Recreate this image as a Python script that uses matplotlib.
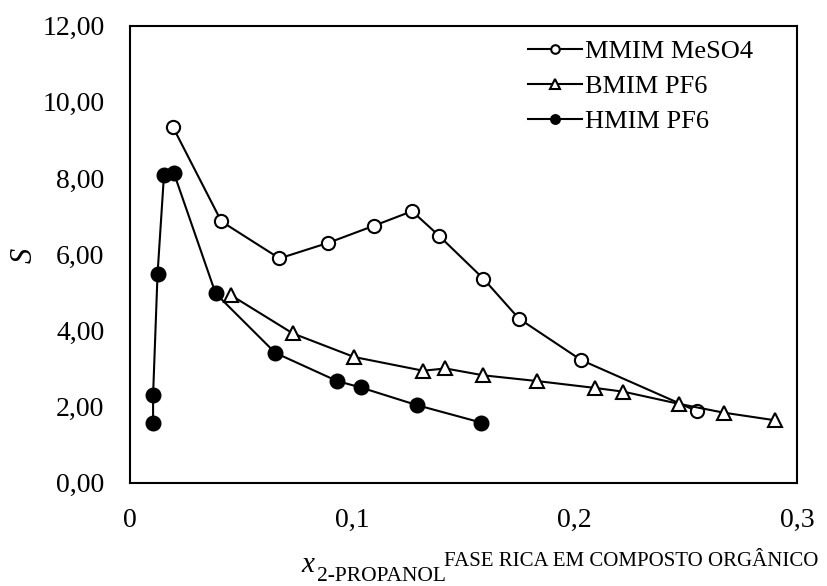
import matplotlib
matplotlib.use("Agg")
import matplotlib.pyplot as plt
from matplotlib.ticker import FuncFormatter

plt.rcParams['font.family'] = ['Liberation Serif', 'DejaVu Serif']

# Data
mmim_x = [0.0196, 0.0413, 0.0674, 0.0894, 0.110, 0.127, 0.139, 0.159, 0.175, 0.203, 0.255]
mmim_y = [9.33, 6.86, 5.89, 6.30, 6.75, 7.13, 6.49, 5.36, 4.31, 3.22, 1.88]

bmim_x = [0.0454, 0.0734, 0.101, 0.132, 0.142, 0.159, 0.183, 0.209, 0.222, 0.247, 0.267, 0.290]
bmim_y = [4.93, 3.92, 3.30, 2.94, 3.00, 2.82, 2.67, 2.49, 2.39, 2.07, 1.84, 1.64]

hmim_x = [0.0106, 0.0106, 0.0126, 0.0155, 0.0199, 0.0387, 0.0655, 0.0933, 0.104, 0.129, 0.158]
hmim_y = [1.56, 2.30, 5.48, 8.08, 8.14, 4.97, 3.41, 2.67, 2.50, 2.04, 1.58]

labels = ['MMIM MeSO4', 'BMIM PF6', 'HMIM PF6']
x_ticks = [0, 0.1, 0.2, 0.3]
y_ticks = [0, 2, 4, 6, 8, 10, 12]

W, H = 827, 586
fig = plt.figure(figsize=(W / 100, H / 100), dpi=100)
ax = fig.add_axes([129.5 / W, (H - 482.7) / H, (797 - 129.5) / W, (482.7 - 25.7) / H])

lw = 1.5
ax.plot(mmim_x, mmim_y, color='black', lw=lw, marker='o', ms=9.5,
        mfc='white', mec='black', mew=1.5, label=labels[0], zorder=3)
ax.plot(bmim_x, bmim_y, color='black', lw=lw, marker='^', ms=10,
        mfc='white', mec='black', mew=1.5, label=labels[1], zorder=3)
ax.plot(hmim_x, hmim_y, color='black', lw=lw, marker='o', ms=10.5,
        mfc='black', mec='black', mew=1.0, label=labels[2], zorder=3)

ax.set_xlim(0, 0.3)
ax.set_ylim(0, 12)
ax.set_xticks(x_ticks)
ax.set_yticks(y_ticks)
ax.xaxis.set_major_formatter(FuncFormatter(lambda v, p: '0' if abs(v) < 1e-9 else ('%g' % round(v, 3)).replace('.', ',')))
ax.yaxis.set_major_formatter(FuncFormatter(lambda v, p: ('%.2f' % v).replace('.', ',')))
ax.tick_params(axis='both', length=0, labelsize=20)
ax.tick_params(axis='x', pad=18)
ax.tick_params(axis='y', pad=18)
for s in ax.spines.values():
    s.set_linewidth(1.5)

leg = ax.legend(loc='upper left', frameon=False, fontsize=19, markerscale=0.65,
                handlelength=2.05, handletextpad=0.12, labelspacing=0.43,
                borderpad=0, borderaxespad=0, bbox_to_anchor=(0.597, 0.969))

# y label
fig.text(24 / W, (H - 255) / H, 'S', rotation=90, fontsize=22, style='italic',
         ha='center', va='center')

# x label composed of pieces
fig.text(301 / W, 14 / H, 'x', fontsize=21, style='italic', ha='left', va='baseline')
fig.text(317 / W, 5 / H, '2-PROPANOL', fontsize=15.5, ha='left', va='baseline')
fig.text(444 / W, 19.5 / H, 'FASE RICA EM COMPOSTO ORGÂNICO', fontsize=15,
         ha='left', va='baseline')

fig.savefig('out.png', dpi=100)
